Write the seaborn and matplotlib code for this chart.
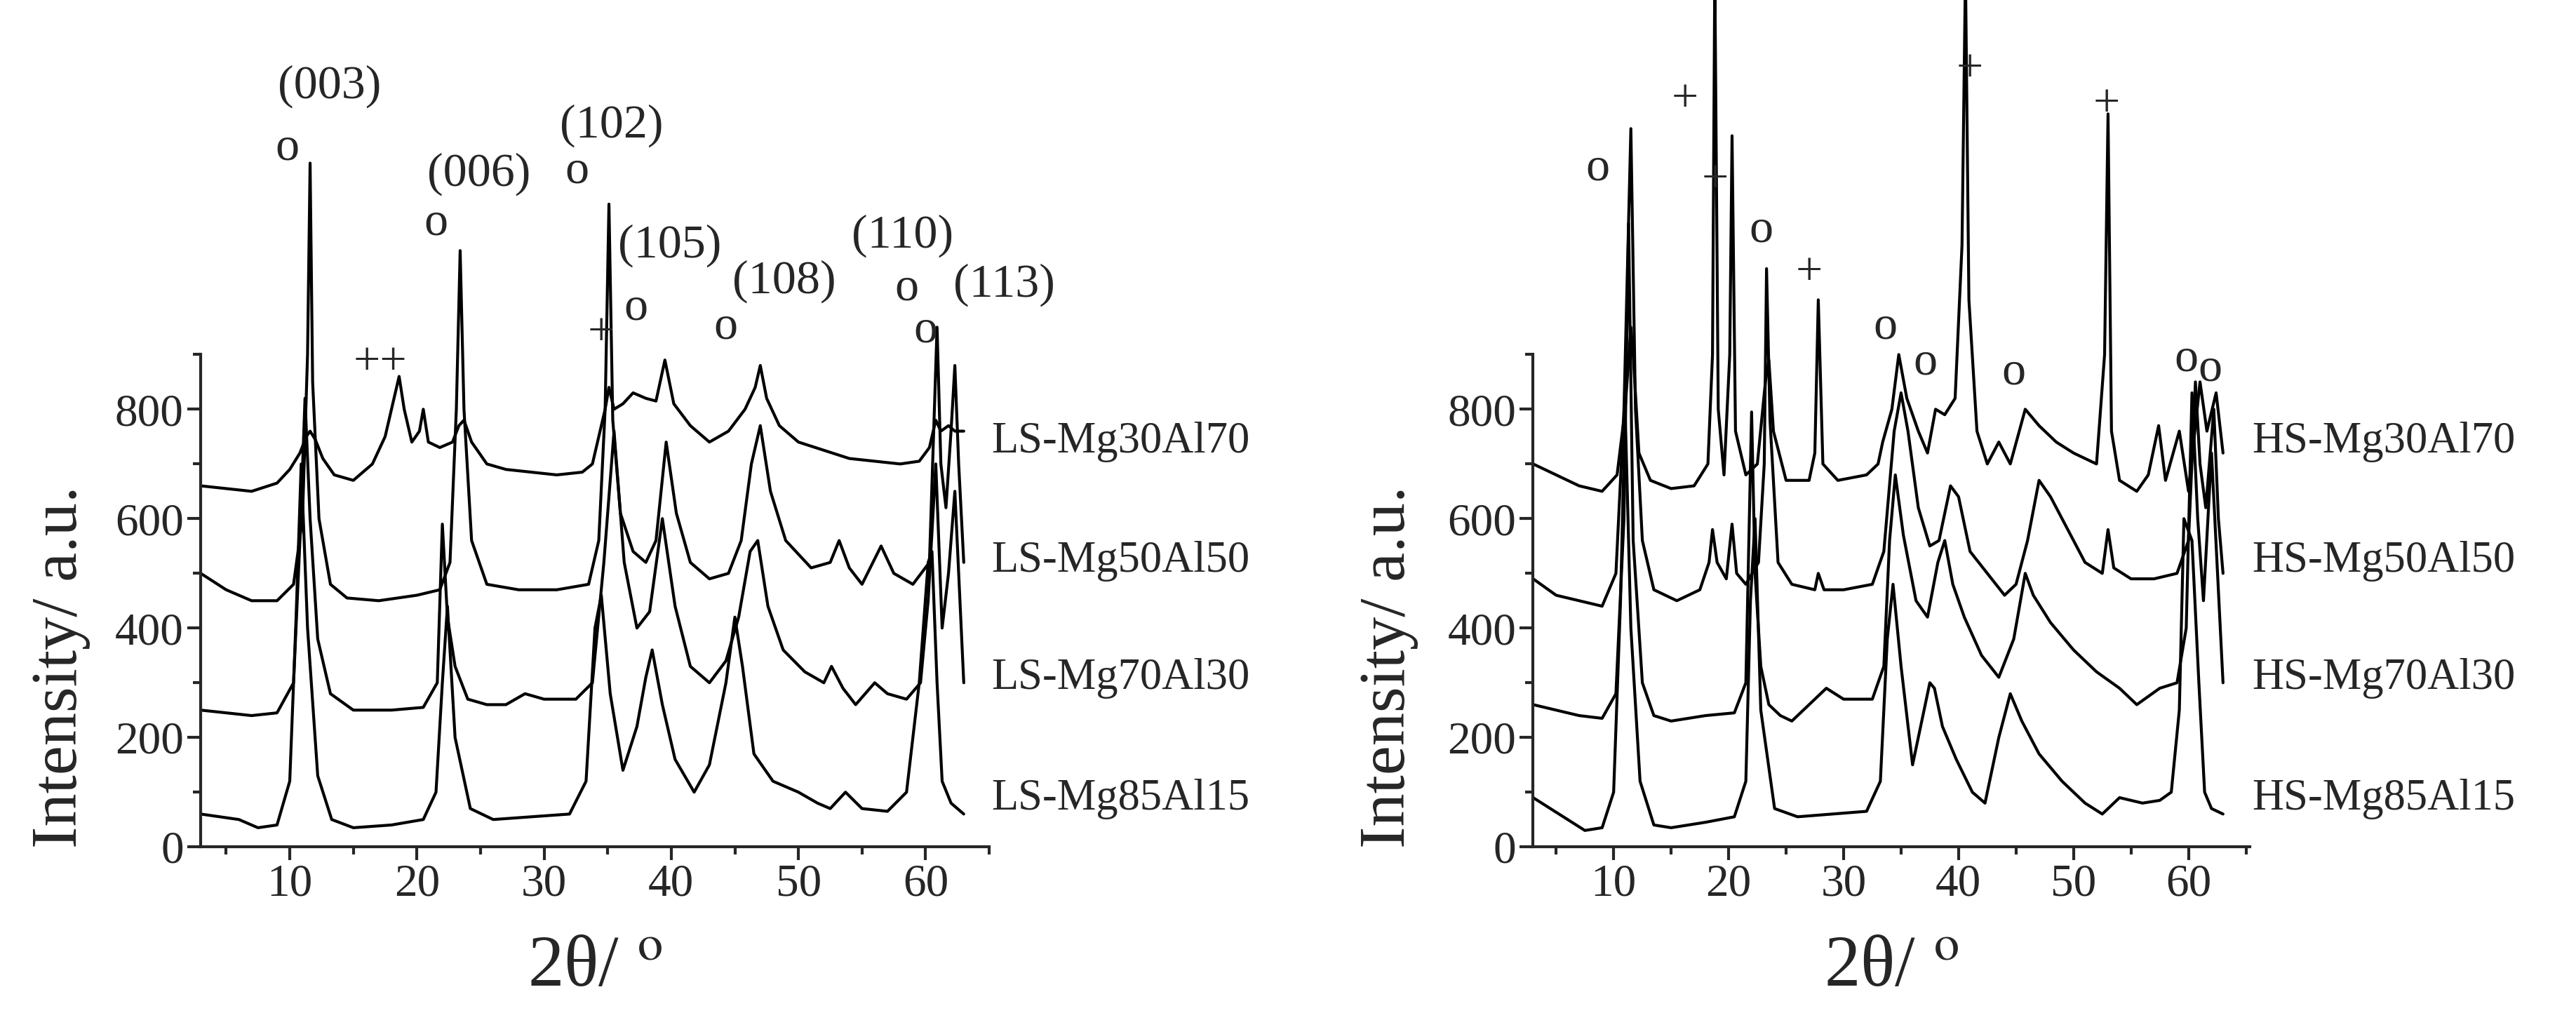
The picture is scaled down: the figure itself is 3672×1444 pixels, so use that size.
import matplotlib
matplotlib.use("Agg")
from matplotlib import pyplot as plt
from matplotlib.ticker import MultipleLocator
import seaborn as sns
import pandas as pd

# ---- LS panel curves (2theta, intensity)
ls_30_x = [3, 5, 7, 9, 10, 10.8, 11.3, 11.6, 12.0, 12.6, 13.5, 15, 16.5, 17.5, 18.2, 18.6, 19.0, 19.6, 20.2, 20.5, 20.9, 21.8, 22.8, 23.3, 23.7, 24.3, 25.5, 27, 29, 31, 33, 33.8, 34.4, 34.8, 35.1, 35.5, 36.2, 37, 38, 38.8, 39.5, 40.2, 41.5, 43, 44.5, 45.8, 46.6, 47.0, 47.5, 48.5, 50, 52, 54, 56, 58, 59.5, 60.3, 60.8, 61.2, 61.8, 62.3, 63]
ls_30_y = [660, 655, 650, 665, 690, 720, 750, 760, 745, 710, 680, 670, 700, 750, 820, 860, 800, 740, 760, 800, 740, 730, 740, 770, 780, 740, 700, 690, 685, 680, 685, 700, 760, 800, 840, 800, 810, 830, 820, 815, 890, 810, 770, 740, 760, 800, 840, 880, 820, 770, 740, 725, 710, 705, 700, 705, 730, 780, 760, 770, 760, 760]

ls_50_x = [3, 5, 7, 9, 10.3, 11.0, 11.4, 11.6, 11.8, 12.3, 13.2, 14.5, 17, 20, 21.8, 22.6, 23.1, 23.4, 23.7, 24.3, 25.5, 28, 31, 33.5, 34.3, 34.8, 35.1, 35.4, 36.0, 37, 38, 38.8, 39.6, 40.4, 41.5, 43, 44.5, 45.5, 46.3, 47.0, 47.8, 49, 51, 52.5, 53.2, 54, 55, 56.5, 57.5, 59, 60.3, 60.9, 61.2, 61.6, 62.0, 62.3, 62.6, 63]
ls_50_y = [500, 470, 450, 450, 480, 600, 900, 1250, 850, 600, 480, 455, 450, 460, 470, 520, 800, 1090, 800, 560, 480, 470, 470, 480, 560, 800, 1175, 780, 610, 540, 520, 560, 740, 610, 520, 490, 500, 560, 700, 770, 650, 560, 510, 520, 560, 510, 480, 550, 500, 480, 520, 950, 700, 620, 760, 880, 700, 520]

ls_70_x = [3, 5, 7, 9, 10.3, 10.8, 11.2, 11.6, 12.2, 13.2, 15, 18, 20.5, 21.6, 22.0, 22.4, 23.0, 24.0, 25.5, 27, 28.5, 30, 32.5, 33.8, 34.7, 35.5, 36.3, 37.3, 38.3, 39.3, 40.3, 41.5, 43, 44.3, 45.3, 46.2, 46.8, 47.6, 48.8, 50.5, 52, 52.6, 53.5, 54.5, 56, 57, 58.5, 59.6, 60.2, 60.8, 61.3, 61.8, 62.3, 63]
ls_70_y = [250, 245, 240, 245, 300, 560, 820, 600, 380, 280, 250, 250, 255, 300, 590, 420, 330, 270, 260, 260, 280, 270, 270, 300, 520, 760, 520, 400, 430, 600, 440, 330, 300, 340, 420, 540, 560, 440, 360, 320, 300, 330, 290, 260, 300, 280, 270, 300, 450, 700, 400, 500, 650, 300]

ls_85_x = [3, 4.5, 6, 7.5, 9, 10.0, 10.5, 10.9, 11.4, 12.2, 13.3, 15, 18, 20.5, 21.5, 22.0, 22.4, 23.0, 24.2, 26, 29, 32, 33.3, 34.0, 34.5, 35.2, 36.2, 37.3, 38.0, 38.5, 39.3, 40.3, 41.8, 43, 44.3, 45.0, 45.6, 46.5, 48, 50, 51.5, 52.5, 53.7, 55, 57, 58.5, 59.5, 60.2, 60.5, 60.9, 61.3, 62, 63]
ls_85_y = [60, 55, 50, 35, 40, 120, 420, 700, 400, 130, 50, 35, 40, 50, 100, 300, 440, 200, 70, 50, 55, 60, 120, 400, 460, 280, 140, 220, 310, 360, 260, 160, 100, 150, 300, 420, 330, 170, 120, 100, 80, 70, 100, 70, 65, 100, 300, 520, 540, 300, 120, 80, 60]

# ---- HS panel curves
hs_30_x = [3, 5, 7, 9, 10.3, 11.0, 11.5, 11.7, 12.2, 13.2, 15, 17, 18.2, 18.6, 18.8, 19.1, 19.6, 20.1, 20.3, 20.6, 21.5, 22.5, 23.2, 23.5, 23.9, 25, 27, 27.5, 27.8, 28.2, 29.5, 32, 33.0, 33.4, 34.2, 34.8, 35.5, 36.5, 37.3, 38.0, 38.8, 39.7, 40.3, 40.6, 40.9, 41.6, 42.5, 43.5, 44.5, 45.8, 47, 48.5, 50, 52, 52.7, 53.0, 53.3, 54, 55.5, 56.5, 57.4, 58.0, 59.2, 60.0, 61.0, 61.6, 62.4, 63]
hs_30_y = [700, 680, 660, 650, 680, 800, 950, 900, 720, 670, 655, 660, 700, 900, 1600, 800, 680, 900, 1300, 760, 680, 700, 850, 890, 760, 670, 670, 720, 1000, 700, 670, 680, 700, 740, 800, 900, 820, 760, 720, 800, 790, 820, 1100, 1600, 1000, 760, 700, 740, 700, 800, 770, 740, 720, 700, 900, 1340, 760, 670, 650, 680, 770, 670, 760, 650, 850, 760, 830, 720]

hs_50_x = [3, 5, 7, 9, 10.2, 10.9, 11.5, 11.9, 12.5, 13.5, 15.5, 17.5, 18.3, 18.6, 19.0, 19.8, 20.3, 20.7, 21.5, 22.6, 23.1, 23.3, 23.6, 24.3, 25.5, 27.5, 27.8, 28.3, 30, 32.5, 33.5, 34.4, 35.0, 35.6, 36.5, 37.5, 38.3, 39.3, 40, 41, 42.5, 44, 45, 46, 47, 48, 49.5, 51, 52.5, 53.0, 53.5, 55, 57, 59, 60, 60.6, 61.0, 61.5, 62.2, 62.6, 63]
hs_50_y = [490, 460, 450, 440, 500, 800, 1313, 800, 560, 470, 450, 470, 520, 580, 520, 490, 590, 500, 480, 520, 700, 1057, 780, 520, 480, 470, 500, 470, 470, 480, 540, 760, 830, 760, 620, 550, 560, 660, 640, 540, 500, 460, 480, 560, 670, 640, 580, 520, 500, 580, 510, 490, 490, 500, 560, 850, 700, 620, 800, 600, 500]

hs_70_x = [3, 5, 7, 9, 10.2, 10.9, 11.3, 11.7, 12.5, 13.5, 15, 18, 20.5, 21.5, 22.0, 22.3, 22.8, 23.5, 24.5, 25.5, 27, 28.5, 30, 32.5, 33.5, 34.0, 34.5, 35.2, 36.3, 37.3, 38.2, 38.8, 39.5, 40.5, 42, 43.5, 44.8, 45.8, 46.5, 48, 50, 52, 54, 55.5, 57.5, 59, 59.8, 60.3, 60.8, 61.3, 62, 63]
hs_70_y = [260, 250, 240, 235, 280, 600, 1140, 560, 300, 240, 230, 240, 245, 300, 795, 500, 330, 260, 240, 230, 260, 290, 270, 270, 330, 560, 680, 570, 450, 420, 520, 560, 480, 420, 350, 310, 380, 500, 460, 410, 360, 320, 290, 260, 290, 300, 400, 830, 600, 450, 720, 300]

hs_85_x = [3, 4.5, 6, 7.5, 9, 10.0, 10.6, 11.0, 11.5, 12.3, 13.5, 15, 18, 20.5, 21.5, 21.9, 22.3, 22.8, 24, 26, 29, 32, 33.2, 33.8, 34.3, 35.0, 36.0, 36.8, 37.5, 37.9, 38.6, 39.8, 41.2, 42.3, 43.5, 44.5, 45.5, 47, 49, 51, 52.5, 54, 56, 57.5, 58.5, 59.2, 59.6, 60.3, 60.9, 61.4, 62, 63]
hs_85_y = [90, 70, 50, 30, 35, 100, 450, 800, 400, 120, 40, 35, 45, 55, 120, 450, 600, 250, 70, 55, 60, 65, 120, 380, 480, 330, 150, 230, 300, 290, 220, 160, 100, 80, 200, 280, 230, 170, 120, 80, 60, 90, 80, 85, 100, 250, 600, 560, 300, 100, 70, 60]

ls_curves = {"LS-Mg30Al70": (ls_30_x, ls_30_y), "LS-Mg50Al50": (ls_50_x, ls_50_y),
             "LS-Mg70Al30": (ls_70_x, ls_70_y), "LS-Mg85Al15": (ls_85_x, ls_85_y)}
hs_curves = {"HS-Mg30Al70": (hs_30_x, hs_30_y), "HS-Mg50Al50": (hs_50_x, hs_50_y),
             "HS-Mg70Al30": (hs_70_x, hs_70_y), "HS-Mg85Al15": (hs_85_x, hs_85_y)}
label_y = [740, 522, 308, 88]

# peak markers: (x, y, text)
ls_marks = [(9.8, 1277, "o"), (13.1, 1390, "(003)"), (21.5, 1140, "o"), (24.9, 1230, "(006)"),
            (32.6, 1235, "o"), (35.3, 1318, "(102)"), (37.2, 985, "o"), (39.9, 1099, "(105)"),
            (44.3, 950, "o"), (48.9, 1033, "(108)"), (58.5, 1021, "o"), (58.2, 1117, "(110)"),
            (60.0, 944, "o"), (66.2, 1027, "(113)"), (17.1, 885, "++"), (34.5, 938, "+")]
hs_marks = [(8.6, 1241, "o"), (16.2, 1366, "+"), (18.8, 1218, "+"), (22.8, 1128, "o"),
            (27.0, 1048, "+"), (33.6, 950, "o"), (37.1, 885, "o"), (41.0, 1420, "+"),
            (44.8, 867, "o"), (52.9, 1357, "+"), (59.8, 891, "o"), (61.9, 873, "o")]

sns.set_style("ticks")
plt.rcParams["font.family"] = ["Liberation Serif", "DejaVu Serif"]
plt.rcParams["mathtext.fontset"] = "stix"

fig = plt.figure(figsize=(36.73, 14.44), dpi=100)
ax1 = fig.add_axes([0.0779, 0.164, 0.306, 0.486])
ax2 = fig.add_axes([0.595, 0.164, 0.278, 0.486])


def panel(ax, curves, marks, xlim, label_x):
    for (name, (x, y)), ly in zip(curves.items(), label_y):
        df = pd.DataFrame({"x": x, "y": y})
        sns.lineplot(data=df, x="x", y="y", ax=ax, color="black", linewidth=3,
                     estimator=None, sort=False, clip_on=False)
        ax.text(xlim[1] + 0.2, ly, name, fontsize=45, va="center", ha="left")
    for mx, my, t in marks:
        ax.text(mx, my, t, fontsize=49, ha="center", va="center")
    ax.set_xlim(*xlim)
    ax.set_ylim(0, 900)
    ax.set_yticks([0, 200, 400, 600, 800])
    ax.xaxis.set_major_locator(MultipleLocator(10))
    ax.xaxis.set_minor_locator(MultipleLocator(5))
    ax.yaxis.set_minor_locator(MultipleLocator(100))
    ax.tick_params(which="major", labelsize=47, length=14, width=3)
    ax.tick_params(which="minor", length=8, width=3)
    ax.set_xlabel("2θ/ $^{\\mathrm{o}}$", fontsize=74, labelpad=30)
    ax.set_ylabel("Intensity/ a.u.", fontsize=68)
    ax.yaxis.set_label_coords(label_x, 0.366)
    sns.despine(ax=ax)
    for s in ["left", "bottom"]:
        ax.spines[s].set_linewidth(3)


panel(ax1, ls_curves, ls_marks, (3.0, 65.0), -0.14)
panel(ax2, hs_curves, hs_marks, (3.0, 65.3), -0.16)

fig.savefig("out.png", dpi=100)
